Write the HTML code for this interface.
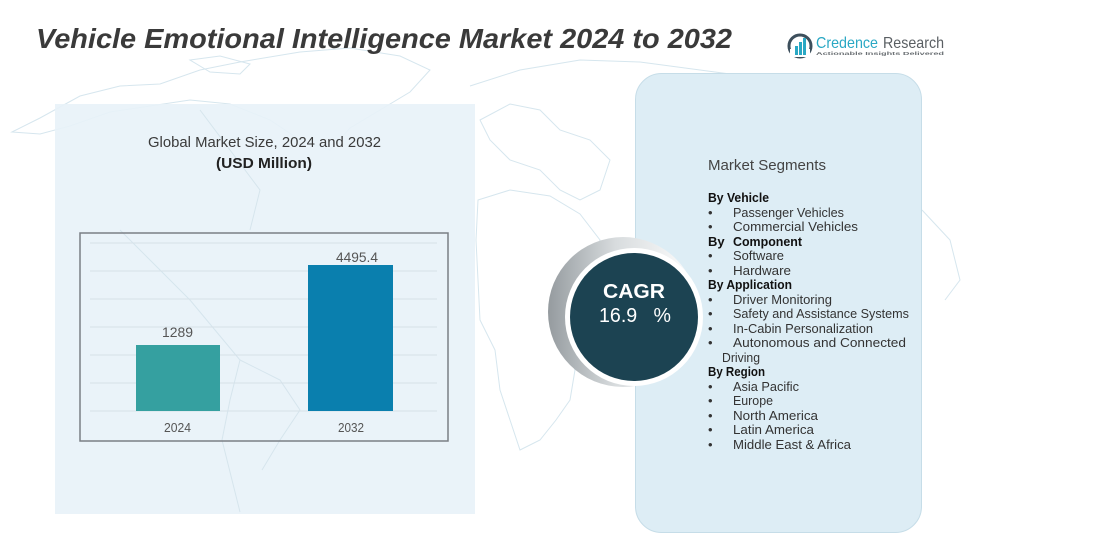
<!DOCTYPE html>
<html><head><meta charset="utf-8"><style>
html,body{margin:0;padding:0;background:#fff;}
svg{display:block;}
text{font-family:"Liberation Sans","DejaVu Sans",sans-serif;}
</style></head><body>
<svg width="1097" height="546" viewBox="0 0 1097 546" xmlns="http://www.w3.org/2000/svg">
<defs>
<linearGradient id="ring" x1="0" y1="0" x2="1" y2="0">
<stop offset="0" stop-color="#959b9f"/>
<stop offset="0.45" stop-color="#d8dcde"/>
<stop offset="1" stop-color="#ffffff"/>
</linearGradient>
</defs>
<rect width="1097" height="546" fill="#fff"/>
<!-- faint world map hints -->
<g fill="none" stroke="#d6e6ee" stroke-width="1">
<path d="M12 132 L40 118 L80 96 L120 86 L160 84 L200 70 L240 62 L300 52 L350 48 L400 56 L430 70 L410 92 L380 110 L350 128 L330 150 L300 140 L270 120 L230 104 L190 100 L150 106 L110 112 L70 126 L40 134 Z"/>
<path d="M190 60 L220 56 L250 64 L240 74 L210 72 Z"/>
<path d="M470 86 L520 70 L580 60 L640 62 L700 70 L760 78 L820 80 L880 90 L920 98"/>
<path d="M480 120 L510 104 L540 110 L560 130 L590 140 L610 160 L600 190 L580 200 L560 190 L540 170 L510 160 L490 140 Z"/>
<path d="M478 200 L510 190 L550 196 L580 214 L600 240 L590 270 L570 290 L560 330 L575 370 L570 400 L556 420 L540 440 L520 450 L510 420 L500 390 L495 350 L480 320 L478 280 L476 240 Z"/>
<path d="M922 210 L950 240 L960 280 L945 300"/>
</g>
<!-- title -->
<text x="36" y="48" font-size="28" font-weight="bold" font-style="italic" fill="#3a3a3a" textLength="696" lengthAdjust="spacingAndGlyphs">Vehicle Emotional Intelligence Market 2024 to 2032</text>
<!-- logo -->
<g>
<circle cx="800" cy="46" r="11" fill="none" stroke="#3d4f5c" stroke-width="3"/>
<rect x="790" y="49" width="20" height="8" fill="#fff"/>
<rect x="795" y="46" width="3" height="9" fill="#2aa8c4"/>
<rect x="799" y="42" width="3" height="13" fill="#2aa8c4"/>
<rect x="803" y="38" width="3" height="17" fill="#2aa8c4"/>
<text x="816" y="48" font-size="16" fill="#2aa8c4" textLength="62" lengthAdjust="spacingAndGlyphs">Credence</text>
<text x="883" y="48" font-size="16" fill="#5a5f63" textLength="61" lengthAdjust="spacingAndGlyphs">Research</text>
<text x="816" y="55" font-size="4.5" font-weight="bold" fill="#6a6f73" textLength="128" lengthAdjust="spacingAndGlyphs">Actionable Insights Delivered</text>
</g>
<!-- left panel -->
<rect x="55" y="104" width="420" height="410" fill="#e8f2f8" fill-opacity="0.9"/>
<g fill="none" stroke="#d6e5ed" stroke-width="1">
<path d="M200 110 L230 150 L260 190 L250 230"/>
<path d="M120 230 L150 260 L190 300 L215 330 L240 360 L230 400 L222 440 L232 480 L240 512"/>
<path d="M240 360 L280 380 L300 410 L280 440 L262 470"/>
</g>
<text x="148" y="147" font-size="15" fill="#3a3a3a" textLength="233" lengthAdjust="spacingAndGlyphs">Global Market Size, 2024 and 2032</text>
<text x="216" y="168" font-size="15" font-weight="bold" fill="#222" textLength="96" lengthAdjust="spacingAndGlyphs">(USD Million)</text>
<!-- chart box -->
<rect x="80" y="233" width="368" height="208" fill="none" stroke="#7a7f85" stroke-width="1.5"/>
<g stroke="#d6e1e8" stroke-width="1">
<line x1="90" y1="243" x2="437" y2="243"/>
<line x1="90" y1="271" x2="437" y2="271"/>
<line x1="90" y1="299" x2="437" y2="299"/>
<line x1="90" y1="327" x2="437" y2="327"/>
<line x1="90" y1="355" x2="437" y2="355"/>
<line x1="90" y1="383" x2="437" y2="383"/>
<line x1="90" y1="411" x2="437" y2="411"/>
</g>
<rect x="136" y="345" width="84" height="66" fill="#35a0a0"/>
<rect x="308" y="265" width="85" height="146" fill="#0a7fae"/>
<text x="162" y="337" font-size="14" fill="#555" textLength="31" lengthAdjust="spacingAndGlyphs">1289</text>
<text x="336" y="262" font-size="14" fill="#555" textLength="42" lengthAdjust="spacingAndGlyphs">4495.4</text>
<text x="164" y="432" font-size="13" fill="#555" textLength="27" lengthAdjust="spacingAndGlyphs">2024</text>
<text x="338" y="432" font-size="13" fill="#555" textLength="26" lengthAdjust="spacingAndGlyphs">2032</text>
<!-- right panel -->
<rect x="635.5" y="73.5" width="286" height="459" rx="26" ry="26" fill="#ddedf5" stroke="#c6dde8" stroke-width="1"/>
<text x="708" y="170" font-size="15" fill="#444" textLength="118" lengthAdjust="spacingAndGlyphs">Market Segments</text>
<g font-size="13" fill="#333">
<text x="708" y="202" font-weight="bold" fill="#111" textLength="61" lengthAdjust="spacingAndGlyphs">By Vehicle</text>
<text x="708" y="217">•</text><text x="733" y="217" textLength="111" lengthAdjust="spacingAndGlyphs">Passenger Vehicles</text>
<text x="708" y="231">•</text><text x="733" y="231" textLength="125" lengthAdjust="spacingAndGlyphs">Commercial Vehicles</text>
<text x="708" y="246" font-weight="bold" fill="#111">By</text><text x="733" y="246" font-weight="bold" fill="#111" textLength="69" lengthAdjust="spacingAndGlyphs">Component</text>
<text x="708" y="260">•</text><text x="733" y="260" textLength="51" lengthAdjust="spacingAndGlyphs">Software</text>
<text x="708" y="275">•</text><text x="733" y="275" textLength="58" lengthAdjust="spacingAndGlyphs">Hardware</text>
<text x="708" y="289" font-weight="bold" fill="#111" textLength="84" lengthAdjust="spacingAndGlyphs">By Application</text>
<text x="708" y="304">•</text><text x="733" y="304" textLength="99" lengthAdjust="spacingAndGlyphs">Driver Monitoring</text>
<text x="708" y="318">•</text><text x="733" y="318" textLength="176" lengthAdjust="spacingAndGlyphs">Safety and Assistance Systems</text>
<text x="708" y="333">•</text><text x="733" y="333" textLength="140" lengthAdjust="spacingAndGlyphs">In-Cabin Personalization</text>
<text x="708" y="347">•</text><text x="733" y="347" textLength="173" lengthAdjust="spacingAndGlyphs">Autonomous and Connected</text>
<text x="722" y="362" textLength="38" lengthAdjust="spacingAndGlyphs">Driving</text>
<text x="708" y="376" font-weight="bold" fill="#111" textLength="57" lengthAdjust="spacingAndGlyphs">By Region</text>
<text x="708" y="391">•</text><text x="733" y="391" textLength="66" lengthAdjust="spacingAndGlyphs">Asia Pacific</text>
<text x="708" y="405">•</text><text x="733" y="405" textLength="40" lengthAdjust="spacingAndGlyphs">Europe</text>
<text x="708" y="420">•</text><text x="733" y="420" textLength="85" lengthAdjust="spacingAndGlyphs">North America</text>
<text x="708" y="434">•</text><text x="733" y="434" textLength="81" lengthAdjust="spacingAndGlyphs">Latin America</text>
<text x="708" y="449">•</text><text x="733" y="449" textLength="118" lengthAdjust="spacingAndGlyphs">Middle East &amp; Africa</text>
</g>
<!-- CAGR circle -->
<circle cx="623" cy="312" r="75" fill="url(#ring)"/>
<circle cx="634" cy="317" r="69" fill="#ffffff"/>
<circle cx="634" cy="317" r="64" fill="#1c4352"/>
<text x="603" y="298" font-size="20" font-weight="bold" fill="#fff" textLength="62" lengthAdjust="spacingAndGlyphs">CAGR</text>
<text x="599" y="322" font-size="20" fill="#fff" xml:space="preserve" textLength="72" lengthAdjust="spacingAndGlyphs">16.9   %</text>
</svg>
</body></html>
